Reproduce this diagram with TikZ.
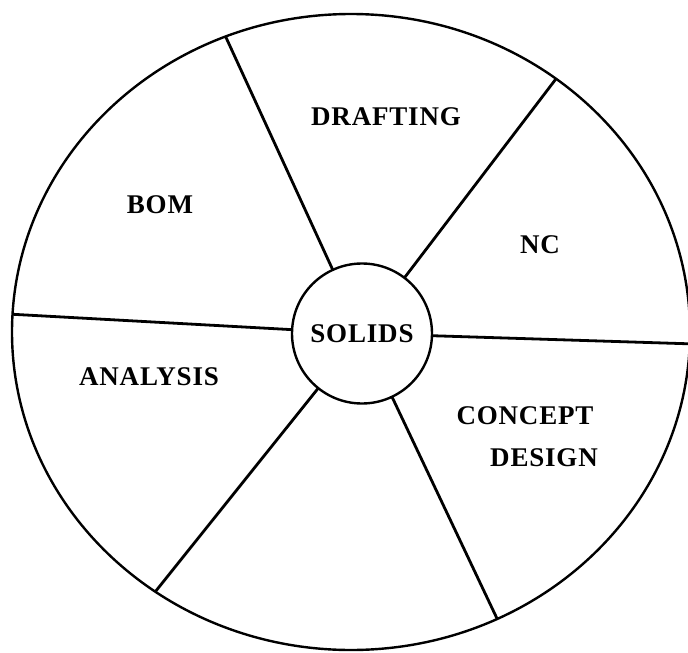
\documentclass[tikz,border=0pt]{standalone}
\usepackage{fontspec}
\setmainfont{Liberation Serif}
\usetikzlibrary{shapes.geometric}
\begin{document}
\begin{tikzpicture}[x=1pt,y=-1pt,
  lbl/.style={font=\fontsize{27}{42}\selectfont\bfseries\addfontfeature{LetterSpace=3}, inner sep=0pt},
  wheel/.style={draw, line width=2.4pt, inner sep=0pt, outer sep=0pt},
  spoke/.style={line width=2.8pt}]
\useasboundingbox (0,0) rectangle (688,653);
\clip (0,0) rectangle (688,653);
\node[ellipse, wheel, minimum width=678pt, minimum height=636pt] (big) at (351,332) {};
\node[circle, wheel, minimum size=140pt, lbl] (s) at (362,333.5) {SOLIDS};
\draw[spoke] (s) -- (big.113.3);
\draw[spoke] (s) -- (big.51.6);
\draw[spoke] (s) -- (big.-2.7);
\draw[spoke] (s) -- (big.-63.95);
\draw[spoke] (s) -- (big.-127.5);
\draw[spoke] (s) -- (big.177.1);
\node[lbl] (drafting) at (386,117) {DRAFTING};
\node[lbl] (bom) at (160,205) {BOM};
\node[lbl] (nc) at (540,245) {NC};
\node[lbl] (analysis) at (149,377) {ANALYSIS};
\node[lbl, align=center] (concept) at (525,437) {CONCEPT\\\hspace*{38pt}DESIGN};
\end{tikzpicture}
\end{document}
